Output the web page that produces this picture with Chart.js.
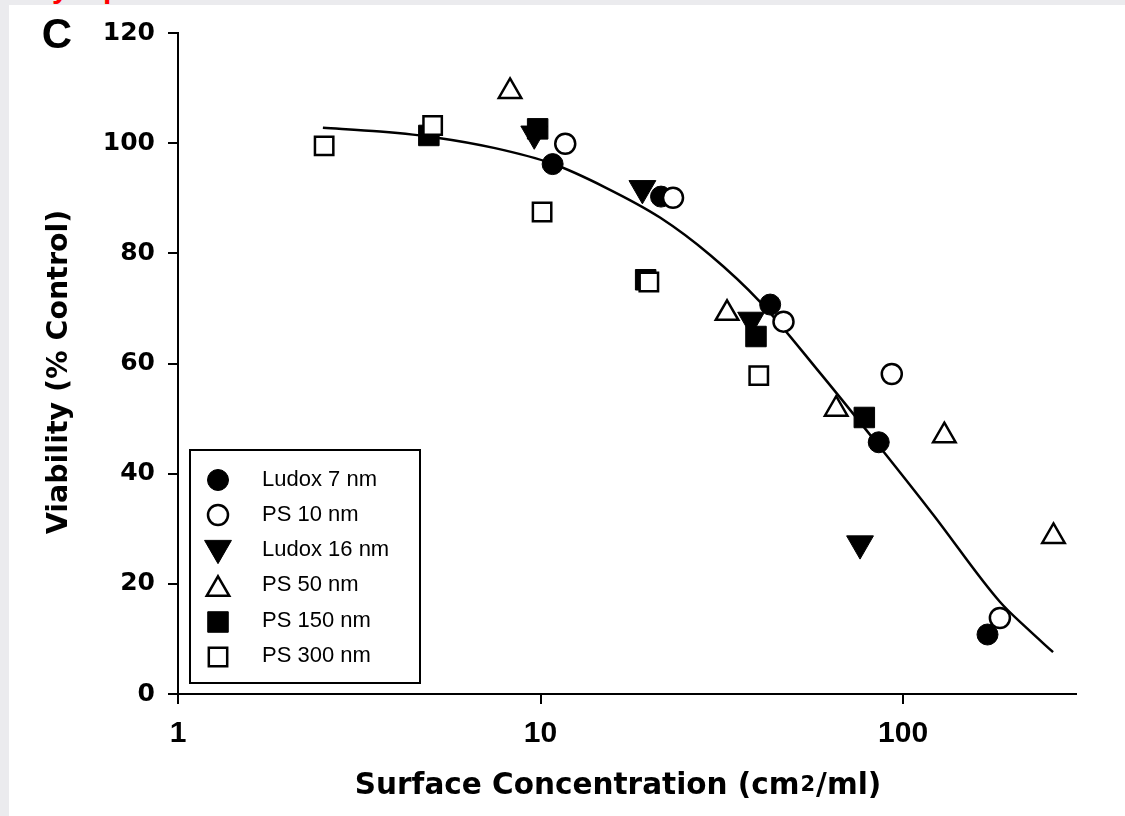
<!DOCTYPE html>
<html>
<head>
<meta charset="utf-8">
<script src="https://cdn.jsdelivr.net/npm/chart.js"></script>
<style>
  html, body { margin: 0; padding: 0; }
  body { width: 1125px; height: 816px; background: #ebebee; position: relative; overflow: hidden; }
  .panel { position: absolute; left: 9px; top: 5px; width: 1116px; height: 811px; background: #fff; }
  .cut { position: absolute; left: 0; top: 0; width: 300px; height: 5px; overflow: hidden; }
  .cut span { position: absolute; top: -27px; font: bold 30px "Liberation Sans", Arial, sans-serif; line-height: 30px; color: #f00; }
</style>
</head>
<body>
<div class="cut"><span style="left:52px">y</span><span style="left:103px">p</span></div>
<div class="panel"><canvas id="myChart" width="1116" height="811"></canvas></div>
<script>
// data
const xTicks = [1, 10, 100];
const yTicks = [0, 20, 40, 60, 80, 100, 120];

const ludox7X = [10.8, 21.5, 43.0, 85.7, 171];
const ludox7Y = [96.2, 90.3, 70.7, 45.7, 10.8];

const ps10X = [11.7, 23.2, 46.8, 93.1, 185];
const ps10Y = [99.9, 90.1, 67.6, 58.1, 13.8];

const ludox16X = [9.61, 19.1, 38.1, 76.1];
const ludox16Y = [101.7, 91.8, 67.9, 27.3];

const ps50X = [8.24, 32.7, 65.4, 130, 260];
const ps50Y = [109.4, 69.1, 51.7, 46.9, 28.6];

const ps150X = [4.92, 9.82, 19.5, 39.3, 78.2];
const ps150Y = [101.4, 102.6, 75.2, 64.9, 50.2];

const ps300X = [2.53, 5.04, 10.1, 19.9, 40.0];
const ps300Y = [99.5, 103.2, 87.5, 74.8, 57.8];

// fitted curve
const fitX = [2.51, 3.61, 5.18, 7.49, 10.76, 15.16, 21.36, 29.36, 40.33, 59.0, 86.4, 121.0, 185.2, 219.9, 259.3];
const fitY = [102.8, 102.1, 101.0, 99.1, 96.3, 91.9, 86.5, 79.7, 71.2, 58.3, 44.8, 32.6, 16.7, 11.9, 7.6];

function pts(xs, ys) {
  return xs.map((x, i) => ({ x: x, y: ys[i] }));
}

const series = [
  { label: "Ludox 7 nm", xs: ludox7X, ys: ludox7Y, shape: "circle", fill: "#000", radius: 10.5, border: 1, rot: 0 },
  { label: "PS 10 nm", xs: ps10X, ys: ps10Y, shape: "circle", fill: "#fff", radius: 10, border: 2.5, rot: 0 },
  { label: "Ludox 16 nm", xs: ludox16X, ys: ludox16Y, shape: "triangle", fill: "#000", radius: 15.5, border: 1, rot: 180 },
  { label: "PS 50 nm", xs: ps50X, ys: ps50Y, shape: "triangle", fill: "#fff", radius: 13, border: 2.5, rot: 0 },
  { label: "PS 150 nm", xs: ps150X, ys: ps150Y, shape: "rect", fill: "#000", radius: 14.5, border: 1, rot: 0 },
  { label: "PS 300 nm", xs: ps300X, ys: ps300Y, shape: "rect", fill: "#fff", radius: 13, border: 2.5, rot: 0 },
];

const datasets = [
  {
    label: "fit",
    data: pts(fitX, fitY),
    showLine: true,
    borderColor: "#000",
    borderWidth: 2.5,
    pointRadius: 0,
    cubicInterpolationMode: "monotone",
    fill: false,
    order: 10,
  },
];

series.forEach((s, i) => {
  datasets.push({
    label: s.label,
    data: pts(s.xs, s.ys),
    pointStyle: s.shape,
    pointRadius: s.radius,
    pointRotation: s.rot,
    pointBackgroundColor: s.fill,
    pointBorderColor: "#000",
    pointBorderWidth: s.border,
    showLine: false,
    order: series.length - i,
  });
});

function drawMarker(ctx, s, x, y) {
  const r = s.radius;
  ctx.save();
  ctx.lineWidth = s.border;
  ctx.strokeStyle = "#000";
  ctx.fillStyle = s.fill;
  ctx.beginPath();
  if (s.shape === "circle") {
    ctx.arc(x, y, r, 0, Math.PI * 2);
  } else if (s.shape === "rect") {
    const h = r * Math.SQRT1_2;
    ctx.rect(x - h, y - h, 2 * h, 2 * h);
  } else {
    const d = s.rot === 180 ? -1 : 1;
    ctx.moveTo(x, y - d * r);
    ctx.lineTo(x + 0.866 * r, y + d * r / 2);
    ctx.lineTo(x - 0.866 * r, y + d * r / 2);
    ctx.closePath();
  }
  ctx.fill();
  ctx.stroke();
  ctx.restore();
}

// titles, panel letter and the boxed legend
const decor = {
  id: "decor",
  afterDraw(chart) {
    const ctx = chart.ctx;
    ctx.save();
    ctx.fillStyle = "#000";

    ctx.font = 'bold 42px "Liberation Sans", Arial, sans-serif';
    ctx.textAlign = "center";
    ctx.textBaseline = "middle";
    ctx.fillText("C", 48, 31);

    // y title
    ctx.save();
    ctx.translate(58, 367);
    ctx.rotate(-Math.PI / 2);
    ctx.font = 'bold 28.5px "DejaVu Sans", sans-serif';
    ctx.textAlign = "center";
    ctx.textBaseline = "alphabetic";
    ctx.fillText("Viability (% Control)", 0, 0);
    ctx.restore();

    // x title with superscript
    const big = 'bold 29.5px "DejaVu Sans", sans-serif';
    const small = 'bold 21px "DejaVu Sans", sans-serif';
    const a = "Surface Concentration (cm", b = "2", c = "/ml)";
    ctx.textAlign = "left";
    ctx.textBaseline = "alphabetic";
    ctx.font = big;
    const wa = ctx.measureText(a).width, wc = ctx.measureText(c).width;
    ctx.font = small;
    const wb = ctx.measureText(b).width;
    let x0 = 608 - (wa + wb + wc) / 2;
    const base = 789;
    ctx.font = big;
    ctx.fillText(a, x0, base);
    ctx.font = small;
    ctx.fillText(b, x0 + wa + 1, base - 3);
    ctx.font = big;
    ctx.fillText(c, x0 + wa + wb + 2, base);

    // legend box
    ctx.lineWidth = 2;
    ctx.strokeStyle = "#000";
    ctx.fillStyle = "#fff";
    ctx.fillRect(181, 445, 230, 233);
    ctx.strokeRect(181, 445, 230, 233);
    const rows = [475, 510, 545, 580, 616, 651];
    const shift = [0, 0, 2, 1, 1, 1];
    ctx.font = '22px "Liberation Sans", Arial, sans-serif';
    ctx.textBaseline = "middle";
    ctx.textAlign = "left";
    series.forEach((s, i) => {
      let my = rows[i] + shift[i];
      if (s.shape === "triangle") my += s.rot === 180 ? -s.radius / 4 : s.radius / 4;
      drawMarker(ctx, s, 209, my);
      ctx.fillStyle = "#000";
      ctx.fillText(s.label, 253, rows[i]);
    });
    ctx.restore();
  },
};

const config = {
  type: "scatter",
  data: { datasets: datasets },
  options: {
    responsive: false,
    animation: false,
    layout: { padding: { top: 22, right: 49, left: 0, bottom: 0 } },
    scales: {
      x: {
        type: "logarithmic",
        min: 1,
        max: 300,
        afterBuildTicks: (s) => {
          s.ticks = xTicks.map((v) => ({ value: v }));
        },
        afterFit: (s) => {
          s.height = 122;
        },
        border: { display: true, color: "#000", width: 2 },
        grid: { display: true, drawOnChartArea: false, drawTicks: true, tickLength: 10, color: "#000", lineWidth: 2 },
        ticks: {
          color: "#000",
          font: { family: '"Liberation Sans", Arial, sans-serif', size: 30, weight: "bold" },
          padding: 12,
          maxRotation: 0,
          autoSkip: false,
          callback: (v) => String(v),
        },
      },
      y: {
        min: 0,
        max: 120,
        afterBuildTicks: (s) => {
          s.ticks = yTicks.map((v) => ({ value: v }));
        },
        afterFit: (s) => {
          s.width = 169;
        },
        border: { display: true, color: "#000", width: 2 },
        grid: { display: true, drawOnChartArea: false, drawTicks: true, tickLength: 10, color: "#000", lineWidth: 2 },
        ticks: {
          color: "#000",
          font: { family: '"DejaVu Sans", sans-serif', size: 25, weight: "bold" },
          padding: 13,
          autoSkip: false,
        },
      },
    },
    plugins: {
      legend: { display: false },
      tooltip: { enabled: false },
    },
  },
  plugins: [decor],
};

const myChart = new Chart(document.getElementById("myChart"), config);
</script>
</body>
</html>
